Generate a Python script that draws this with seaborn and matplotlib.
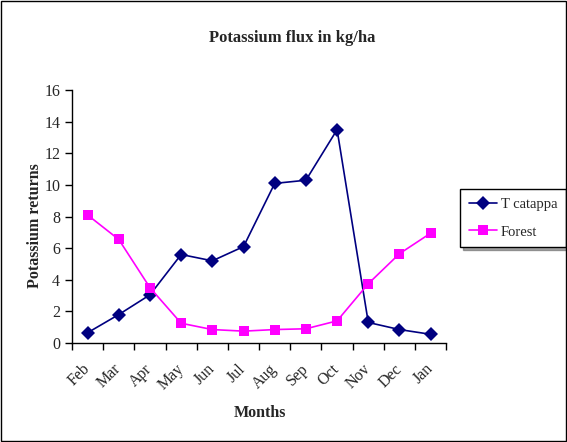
import matplotlib
matplotlib.use("Agg")
import matplotlib.pyplot as plt
import matplotlib.transforms as mtransforms
import pandas as pd
import seaborn as sns
from matplotlib.patches import Rectangle

months = ["Feb", "Mar", "Apr", "May", "Jun", "Jul", "Aug", "Sep", "Oct", "Nov", "Dec", "Jan"]
t_catappa = [0.65, 1.8, 3.05, 5.6, 5.2, 6.1, 10.1, 10.3, 13.5, 1.3, 0.85, 0.55]
forest = [8.1, 6.55, 3.5, 1.25, 0.85, 0.75, 0.85, 0.9, 1.4, 3.75, 5.65, 6.95]

df = pd.DataFrame({
    "pos": list(range(len(months))) * 2,
    "value": t_catappa + forest,
    "series": ["T catappa"] * len(months) + ["Forest"] * len(months),
})

sns.set_style("white")
plt.rcParams["font.family"] = ["Liberation Serif", "DejaVu Serif"]

fig = plt.figure(figsize=(5.67, 4.42), dpi=100)
ax = fig.add_axes([0.127, 0.224, 0.66, 0.572])

sns.lineplot(
    data=df, x="pos", y="value", hue="series", style="series",
    palette={"T catappa": "#000080", "Forest": "#ff00ff"},
    markers={"T catappa": "D", "Forest": "s"}, dashes=False,
    markersize=7, linewidth=1.2, markeredgewidth=0, ax=ax, legend=True,
)

ax.set_xlim(-0.5, len(months) - 0.5)
ax.set_ylim(0, 16)
ax.set_yticks(range(0, 17, 2))
ax.set_xticks([i - 0.5 for i in range(len(months) + 1)])
ax.set_xticklabels([])
ax.set_xticks(range(len(months)), minor=True)
ax.set_xticklabels(months, minor=True, rotation=45, ha="right", va="center", rotation_mode="anchor")
shift = mtransforms.ScaledTranslation(-4 / 100, 0, fig.dpi_scale_trans)
for lbl in ax.get_xticklabels(minor=True):
    lbl.set_transform(lbl.get_transform() + shift)
ax.tick_params(axis="x", which="major", direction="out", length=5, width=1, color="black", bottom=True)
ax.tick_params(axis="x", which="minor", length=0, pad=17, labelsize=11.5)
ax.tick_params(axis="y", direction="out", length=5, width=1, color="black", left=True, labelsize=11.5)
for side in ["top", "right"]:
    ax.spines[side].set_visible(False)
for side in ["left", "bottom"]:
    ax.spines[side].set_color("black")
    ax.spines[side].set_linewidth(1)
ax.set_xlabel("")
ax.set_ylabel("")

fig.text(0.515, 0.915, "Potassium flux in kg/ha", ha="center", va="center", fontsize=12, fontweight="bold")
fig.text(0.062, 0.49, "Potassium returns", ha="center", va="center", rotation=90, fontsize=11.5, fontweight="bold")
fig.text(0.458, 0.066, "Months", ha="center", va="center", fontsize=11.5, fontweight="bold")

handles, labels = ax.get_legend_handles_labels()
leg = ax.legend(handles, labels, loc="center left", bbox_to_anchor=(1.037, 0.494),
                frameon=True, fancybox=False, shadow=True, fontsize=10.5,
                handlelength=1.9, handletextpad=0.3, borderpad=0.6, borderaxespad=0,
                labelspacing=1.0)
leg.get_frame().set_edgecolor("black")
leg.get_frame().set_linewidth(1)

fig.patches.append(Rectangle((0.002, 0.002), 0.996, 0.996, transform=fig.transFigure,
                             fill=False, edgecolor="black", linewidth=1))

fig.savefig("out.png", dpi=100)
